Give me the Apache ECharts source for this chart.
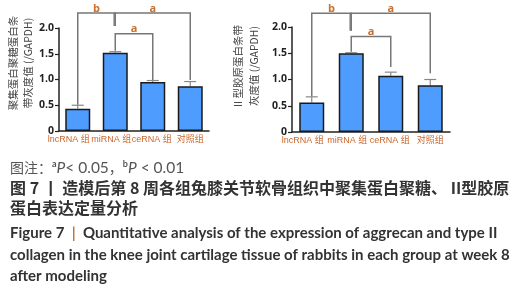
<!DOCTYPE html>
<html><head><meta charset="utf-8">
<script src="https://cdn.jsdelivr.net/npm/echarts@6/dist/echarts.min.js"></script>
<style>html,body{margin:0;padding:0;background:#fff}#c{width:522px;height:300px}</style>
</head><body><div id="c"></div>
<script>
var categories = ['lncRNA 组', 'miRNA 组', 'ceRNA 组', '对照组'];
var yTicks = ['0', '0.5', '1.0', '1.5', '2.0'];
var aggrecanMean = [0.43, 1.52, 0.95, 0.87];
var aggrecanErr  = [0.50, 1.54, 0.98, 0.96];
var collagenMean = [0.56, 1.50, 1.07, 0.89];
var collagenErr  = [0.67, 1.51, 1.14, 1.00];
// brackets: [fromCat, toCat, level, fromEnd, toEnd, label]
var aggrecanBrackets = [[0, 1, 2.29, 0.51, 2.04, 'b'], [1, 3, 2.29, 2.04, 0.99, 'a'], [1, 2, 1.89, 1.56, 0.99, 'a']];
var collagenBrackets = [[0, 1, 2.26, 0.68, 1.93, 'b'], [1, 3, 2.26, 1.93, 1.12, 'a'], [1, 2, 1.82, 1.53, 1.24, 'a']];
var yLabel1 = ['聚集蛋白聚糖蛋白条', '带灰度值 (/GAPDH)'];
var yLabel2 = ['II 型胶原蛋白条带', '灰度值 (/GAPDH)'];

var chart = echarts.init(document.getElementById('c'));
var FONT = '"Noto Sans CJK SC", sans-serif';
var LFONT = '"Liberation Sans", "Noto Sans CJK SC", sans-serif';
var labelPad = [[0, 18, 0, 0], [0, 8, 0, 0], [0, 2, 0, 0], [0, 0, 0, 0]];

function axisPair(idx) {
  return {
    x: {
      type: 'category', gridIndex: idx,
      data: categories.map(function (c, i) { return {value: c, textStyle: {padding: labelPad[i]}}; }),
      axisLine: {lineStyle: {color: '#222', width: 1.5}},
      axisTick: {alignWithLabel: true, length: 3, lineStyle: {color: '#222', width: 1.2}},
      axisLabel: {color: '#c8672e', fontSize: 9, margin: 4, fontFamily: LFONT, interval: 0, hideOverlap: false}
    },
    y: {
      type: 'value', gridIndex: idx, min: 0, max: 2, interval: 0.5,
      splitLine: {show: false},
      axisLine: {show: true, lineStyle: {color: '#222', width: 1.5}},
      axisTick: {show: true, length: 4, lineStyle: {color: '#222', width: 1.2}},
      axisLabel: {color: '#222', fontSize: 10.5, fontWeight: 'bold', margin: 5, fontFamily: '"Open Sans", sans-serif',
        formatter: function (v) { return yTicks[Math.round(v / 0.5)]; }}
    }
  };
}
var a0 = axisPair(0), a1 = axisPair(1);

function barSeries(idx, data) {
  return {type: 'bar', xAxisIndex: idx, yAxisIndex: idx, data: data, barWidth: 25,
    itemStyle: {color: '#4f9cff', borderColor: '#1a1a1a', borderWidth: 1.5}, z: 2};
}
function errSeries(idx, mean, err) {
  return {type: 'custom', xAxisIndex: idx, yAxisIndex: idx, z: 1,
    data: mean.map(function (m, i) { return [i, m, err[i]]; }),
    renderItem: function (params, api) {
      var p0 = api.coord([api.value(0), api.value(1)]);
      var p1 = api.coord([api.value(0), api.value(2)]);
      return {type: 'group', children: [
        {type: 'line', shape: {x1: p0[0], y1: p0[1], x2: p1[0], y2: p1[1]}, style: {stroke: '#888', lineWidth: 1.2}},
        {type: 'line', shape: {x1: p1[0] - 6, y1: p1[1], x2: p1[0] + 6, y2: p1[1]}, style: {stroke: '#888', lineWidth: 1.2}}
      ]};
    }};
}
function bracketSeries(idx, brackets) {
  return {type: 'custom', xAxisIndex: idx, yAxisIndex: idx, clip: false, z: 3,
    data: brackets,
    renderItem: function (params, api) {
      var a = api.coord([api.value(0), api.value(2)]);
      var b = api.coord([api.value(1), api.value(2)]);
      var ae = api.coord([api.value(0), api.value(3)]);
      var be = api.coord([api.value(1), api.value(4)]);
      var st = {stroke: '#777', lineWidth: 1.5, fill: null};
      var ch = [
        {type: 'polyline', shape: {points: [[ae[0], ae[1]], [a[0], a[1]], [b[0], b[1]], [be[0], be[1]]]}, style: st},
        {type: 'text', style: {text: brackets[params.dataIndex][5], x: (a[0] + b[0]) / 2, y: a[1] + 1,
          textAlign: 'center', textVerticalAlign: 'bottom', fill: '#c8702e', font: 'bold 11px "Open Sans", sans-serif'}}
      ];
      if (params.dataIndex === 0) {
        ch.push({type: 'line', shape: {x1: b[0] - 1.2, y1: b[1], x2: b[0] - 1.2, y2: be[1]}, style: {stroke: '#777', lineWidth: 1.2}});
      }
      return {type: 'group', children: ch};
    }};
}
function yName(lines, x1, x2, cy) {
  return [
    {type: 'text', x: x1, y: cy, rotation: Math.PI / 2, style: {text: lines[0], textAlign: 'center', textVerticalAlign: 'middle', fill: '#444', font: '10.5px ' + FONT}},
    {type: 'text', x: x2, y: cy, rotation: Math.PI / 2, style: {text: lines[1], textAlign: 'center', textVerticalAlign: 'middle', fill: '#444', font: '10.5px ' + FONT}}
  ];
}
var capStyle = function (t, y, font, fill) {
  return {type: 'text', left: 10, top: y, style: {text: t, font: font, fill: fill}};
};
var EN = 'bold 15px Lato, "Open Sans", sans-serif';

chart.setOption({
  animation: false,
  grid: [
    {left: 59, top: 28, width: 150, height: 103},
    {left: 292, top: 27, width: 158, height: 105}
  ],
  xAxis: [a0.x, a1.x],
  yAxis: [a0.y, a1.y],
  series: [
    barSeries(0, aggrecanMean), errSeries(0, aggrecanMean, aggrecanErr), bracketSeries(0, aggrecanBrackets),
    barSeries(1, collagenMean), errSeries(1, collagenMean, collagenErr), bracketSeries(1, collagenBrackets)
  ],
  graphic: [].concat(
    yName(yLabel1, 13, 28, 63),
    yName(yLabel2, 238, 254, 66),
    [
      {type: 'text', left: 10, top: 160, style: {rich: {n: {font: '14px ' + FONT, fill: '#555'}, l: {font: '15.5px Lato, sans-serif', fill: '#555'}, s: {font: 'bold 9px Lato, sans-serif', fill: '#555', verticalAlign: 'top'}, p: {font: 'italic 15.5px Lato, sans-serif', fill: '#555'}},
        text: '{n|图注：}{s|a}{p|P}{l|< 0.05}{n|，}{s|b}{p|P}{l| < 0.01}'}},
      {type: 'text', left: 10, top: 180, style: {rich: {c: {font: 'bold 16px ' + FONT, fill: '#333'}},
        text: '{c|图 7 丨 造模后第 8 周各组兔膝关节软骨组织中聚集蛋白聚糖、 II型胶原}'}},
      capStyle('蛋白表达定量分析', 200, 'bold 16px ' + FONT, '#333'),
      {type: 'text', left: 10, top: 226, style: {rich: {c: {font: EN, fill: '#333'}, o: {font: EN, fill: '#c8702e'}},
        text: '{c|Figure 7  }{o||}{c|  Quantitative analysis of the expression of aggrecan and type II}'}},
      capStyle('collagen in the knee joint cartilage tissue of rabbits in each group at week 8', 248, EN, '#333'),
      capStyle('after modeling', 269, EN, '#333')
    ]
  )
});
</script>
</body></html>
